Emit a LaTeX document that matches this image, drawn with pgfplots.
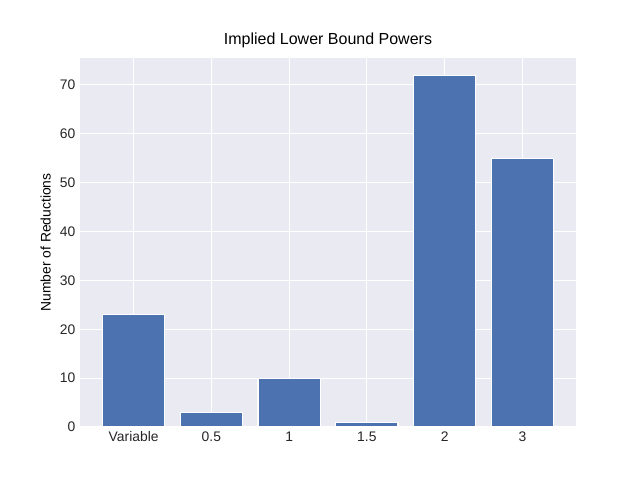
\documentclass[border=0pt]{standalone}
\usepackage{pgfplots}
\pgfplotsset{compat=1.18}
\usepackage{fontspec}
\setmainfont{Liberation Sans}
\definecolor{bg}{HTML}{EAEAF2}
\definecolor{bar}{HTML}{4C72B0}
\begin{document}
\begin{tikzpicture}
\begin{axis}[
  scale only axis, width=372pt, height=276.75pt,
  xmin=-0.69, xmax=5.69, ymin=0, ymax=75.5,
  axis background/.style={fill=bg},
  axis line style={draw=none},
  major tick length=0pt,
  grid=major, grid style={white, line width=0.8pt},
  xtick={0,1,2,3,4,5},
  xticklabels={Variable,0.5,1,1.5,2,3},
  ytick={0,10,20,30,40,50,60,70},
  /pgf/number format/assume math mode=true,
  tick label style={font=\fontsize{10.4}{12}\selectfont, text=black!85},
  ylabel={Number of Reductions},
  label style={font=\fontsize{10.4}{12}\selectfont},
  title={Implied Lower Bound Powers},
  title style={font=\fontsize{12}{14}\selectfont, yshift=-2pt},
  axis on top=false,
  set layers,
]
\addplot[ybar, bar width=0.8, bar shift=0pt, fill=bar, draw=white, line width=0.8pt]
 coordinates {(0,23) (1,3) (2,10) (3,1) (4,72) (5,55)};
\coordinate (o) at (rel axis cs:0,0);
\end{axis}
\path (o) ++(-60pt,-39.75pt) rectangle ++(480pt,360pt);
\end{tikzpicture}
\end{document}
